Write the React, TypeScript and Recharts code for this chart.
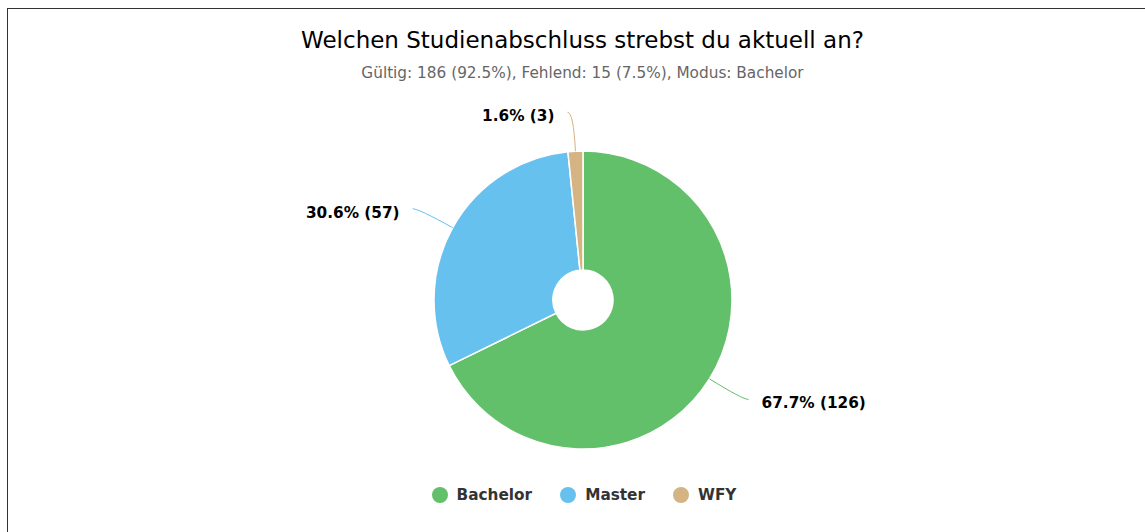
import React from 'react';
import { PieChart, Pie, Cell, Legend } from 'recharts';

const categories = ['Bachelor', 'Master', 'WFY'];
const counts = [126, 57, 3];
const colors = ['#62bf6a', '#66c1ef', '#d4b483'];
const titleText = 'Welchen Studienabschluss strebst du aktuell an?';
const subtitleText = 'Gültig: 186 (92.5%), Fehlend: 15 (7.5%), Modus: Bachelor';

const data = categories.map((name, i) => ({ name, value: counts[i] }));
const total = counts.reduce((a, b) => a + b, 0);
const FONT = '"DejaVu Sans", sans-serif';
const RAD = Math.PI / 180;

const renderLabel = (props: any) => {
  const { cx, cy, midAngle, outerRadius, value, fill } = props;
  const cos = Math.cos(-midAngle * RAD);
  const sin = Math.sin(-midAngle * RAD);
  const x0 = cx + outerRadius * cos;
  const y0 = cy + outerRadius * sin;
  const r2 = outerRadius + 39;
  const x1 = cx + r2 * cos;
  const y1 = cy + r2 * sin;
  const dir = cos >= 0 ? 1 : -1;
  const x2 = x1 + dir * 6;
  const y2 = y1;
  const pct = ((value / total) * 100).toFixed(1);
  return (
    <g>
      <path d={`M${x0},${y0} Q${x1},${y1} ${x2},${y2}`} stroke={fill} fill="none" strokeWidth={1} />
      <text
        x={x2 + dir * 13}
        y={y2 + 4}
        textAnchor={dir > 0 ? 'start' : 'end'}
        dominantBaseline="central"
        fontFamily={FONT}
        fontWeight="bold"
        fontSize={15.3}
        fill="#000"
      >
        {`${pct}% (${value})`}
      </text>
    </g>
  );
};

const renderLegend = () => (
  <div style={{ display: 'flex', justifyContent: 'center', alignItems: 'center', fontFamily: FONT, paddingLeft: 3 }}>
    {categories.map((c, i) => (
      <div key={c} style={{ display: 'flex', alignItems: 'center', marginLeft: i === 0 ? 0 : 28 }}>
        <span style={{ width: 16, height: 16, borderRadius: 8, background: colors[i], display: 'inline-block' }} />
        <span style={{ marginLeft: 9, fontWeight: 'bold', fontSize: 15.3, color: '#333' }}>{c}</span>
      </div>
    ))}
  </div>
);

export default function App() {
  return (
    <div style={{ position: 'absolute', left: 0, top: 0, width: 1145, height: 532, background: '#fff', overflow: 'hidden' }}>
      <div style={{ position: 'absolute', left: 7, top: 8, width: 1200, height: 600, borderLeft: '1px solid #333', borderTop: '1px solid #333' }} />
      <div style={{ position: 'absolute', left: 0, top: 27, width: 1165, textAlign: 'center', fontFamily: FONT, fontSize: 23, color: '#000', lineHeight: '26px' }}>
        {titleText}
      </div>
      <div style={{ position: 'absolute', left: 0, top: 64, width: 1165, textAlign: 'center', fontFamily: FONT, fontSize: 15.3, color: '#666', lineHeight: '18px' }}>
        {subtitleText}
      </div>
      <div style={{ position: 'absolute', left: 0, top: 0 }}>
        <PieChart width={1165} height={532} margin={{ top: 0, right: 0, bottom: 0, left: 0 }}>
          <Pie
            data={data}
            dataKey="value"
            nameKey="name"
            cx={583}
            cy={300}
            innerRadius={30}
            outerRadius={149}
            startAngle={90}
            endAngle={-270}
            stroke="#fff"
            strokeWidth={1.5}
            label={renderLabel}
            labelLine={false}
            isAnimationActive={false}
          >
            {data.map((d, i) => (
              <Cell key={d.name} fill={colors[i]} />
            ))}
          </Pie>
          <Legend
            content={renderLegend}
            verticalAlign="bottom"
            wrapperStyle={{ top: 486, bottom: 'auto', left: 0, width: 1165 }}
          />
        </PieChart>
      </div>
    </div>
  );
}
